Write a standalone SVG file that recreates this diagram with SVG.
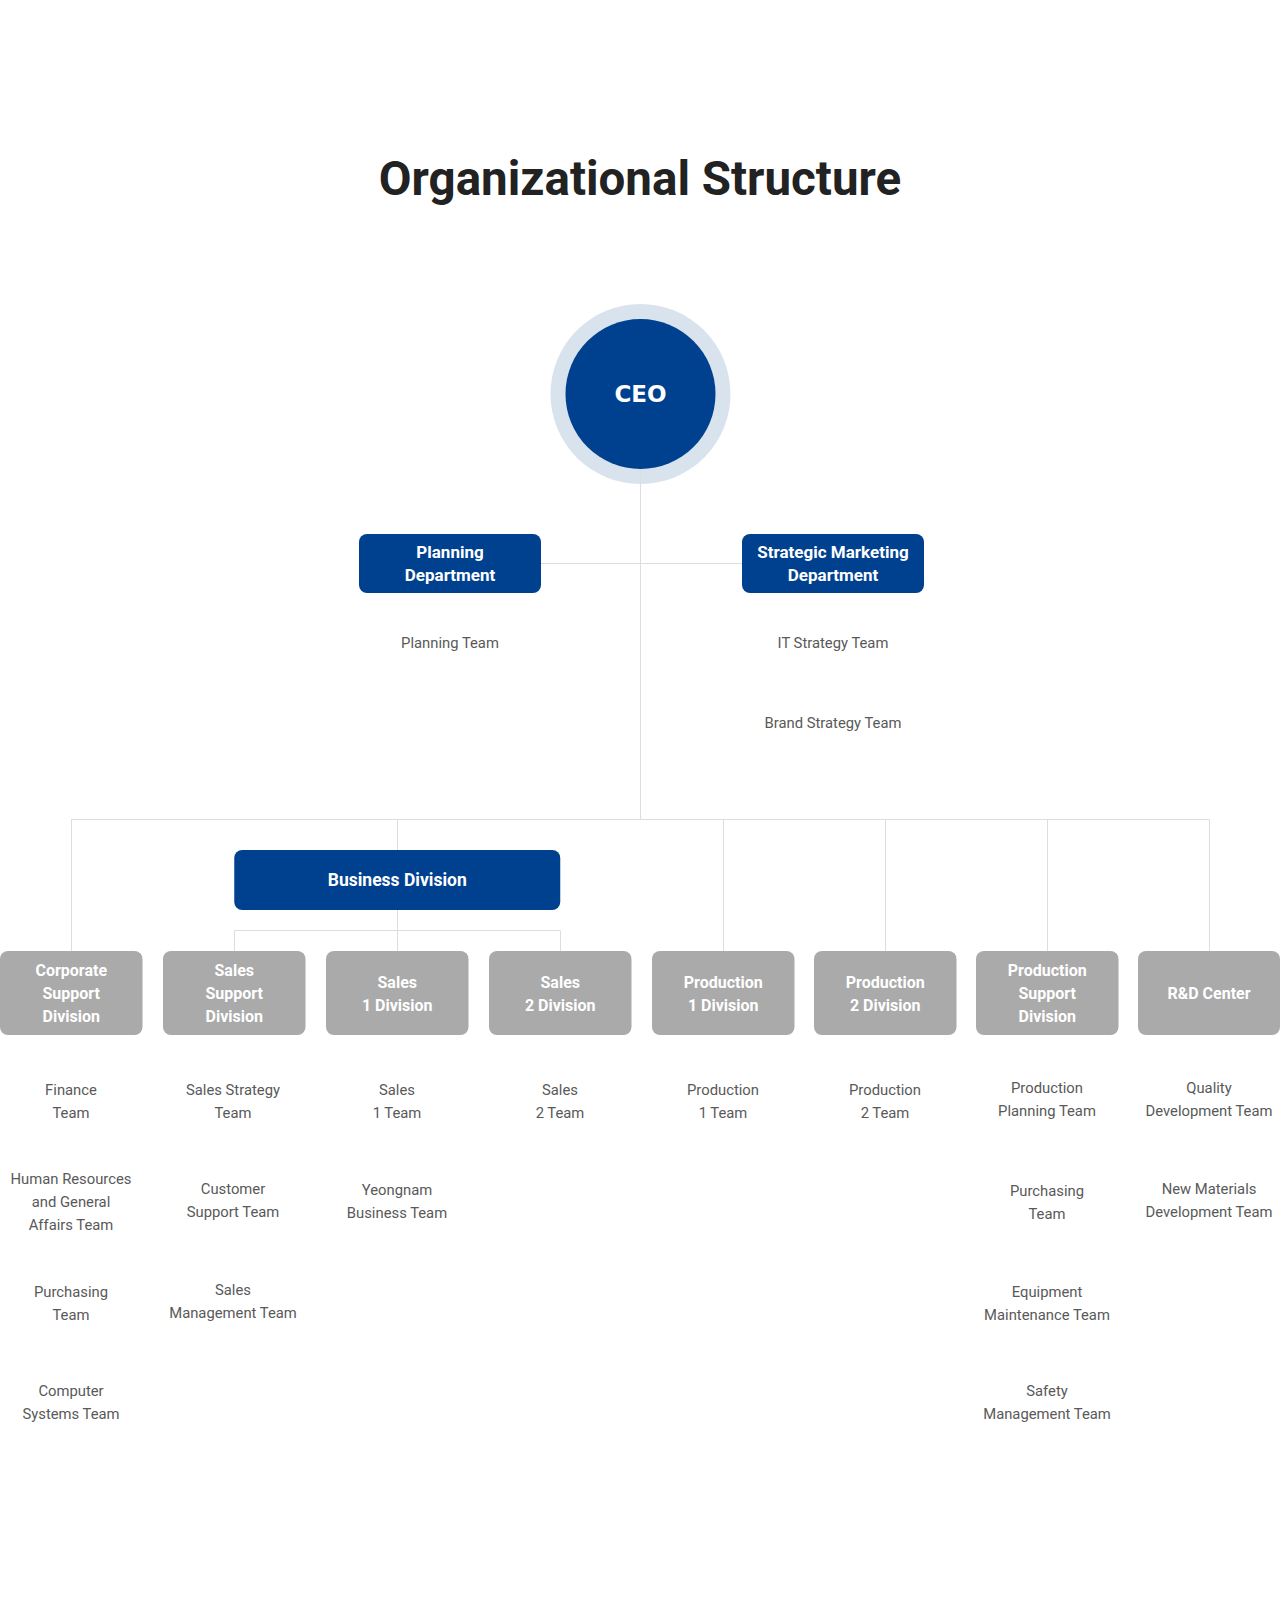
<svg xmlns="http://www.w3.org/2000/svg" width="1280" height="1610" viewBox="0 0 1280 1610">
<style>
.title{font-family:Roboto,"Noto Sans",sans-serif;font-weight:700;font-size:47.5px;fill:#222;text-anchor:middle}
.ceo{font-family:"DejaVu Sans","Noto Sans",sans-serif;font-weight:700;font-size:23px;fill:#fff;text-anchor:middle;dominant-baseline:central}
.dept{fill:#00418f}
.deptt{font-family:Roboto,"Noto Sans",sans-serif;font-weight:700;font-size:17px;fill:#fff;text-anchor:middle;dominant-baseline:central}
.bdt{font-family:Roboto,"Noto Sans",sans-serif;font-weight:700;font-size:17.5px;fill:#fff;text-anchor:middle;dominant-baseline:central}
.div{fill:#aaaaaa}
.divt{font-family:Roboto,"Noto Sans",sans-serif;font-weight:700;font-size:16px;fill:#fff;text-anchor:middle;dominant-baseline:central}
.team{font-family:Roboto,"Noto Sans",sans-serif;font-weight:400;font-size:14.8px;fill:#595959;text-anchor:middle;dominant-baseline:central}
.ln{stroke:#dddddd;stroke-width:1;fill:none}
</style>
<rect width="1280" height="1610" fill="#fff"/>
<text class="title" x="640" y="195">Organizational Structure</text>

<g id="connectors">
<path class="ln" d="M640.5 469V819.5M541 563.5H742M71.5 819.5H1209.5M71.5 819.5V951M397.5 819.5V850M397.5 910V951M234.5 930.5H560.5M234.5 930.5V951M560.5 930.5V951M723.5 819.5V951M885.5 819.5V951M1047.5 819.5V951M1209.5 819.5V951"/>
</g>

<g id="ceo">
<circle cx="640.5" cy="394" r="90" fill="#d9e3ee"/>
<circle cx="640.5" cy="394" r="75" fill="#00418f"/>
<path class="ln" d="M640.5 469V484"/>
<text class="ceo" x="640.5" y="394">CEO</text>
</g>

<g id="planning-dept">
<rect class="dept" x="359" y="534" width="182" height="59" rx="8"/>
<text class="deptt" x="450" y="552">Planning</text>
<text class="deptt" x="450" y="575">Department</text>
</g>
<g id="strategic-marketing-dept">
<rect class="dept" x="742" y="534" width="182" height="59" rx="8"/>
<text class="deptt" x="833" y="552">Strategic Marketing</text>
<text class="deptt" x="833" y="575">Department</text>
</g>
<g id="planning-teams">
<text class="team" x="450" y="643">Planning Team</text>
</g>
<g id="marketing-teams">
<text class="team" x="833" y="643">IT Strategy Team</text>
<text class="team" x="833" y="723">Brand Strategy Team</text>
</g>

<g id="business-division">
<rect class="dept" x="234.25" y="850" width="326" height="60" rx="8"/>
<text class="bdt" x="397.25" y="880">Business Division</text>
</g>

<g id="corporate-support">
<rect class="div" x="0" y="951" width="142.5" height="84" rx="8"/>
<text class="divt" x="71.25" y="970">Corporate</text>
<text class="divt" x="71.25" y="993">Support</text>
<text class="divt" x="71.25" y="1016">Division</text>
</g>
<g id="sales-support">
<rect class="div" x="163" y="951" width="142.5" height="84" rx="8"/>
<text class="divt" x="234.25" y="970">Sales</text>
<text class="divt" x="234.25" y="993">Support</text>
<text class="divt" x="234.25" y="1016">Division</text>
</g>
<g id="sales-1">
<rect class="div" x="326" y="951" width="142.5" height="84" rx="8"/>
<text class="divt" x="397.25" y="982">Sales</text>
<text class="divt" x="397.25" y="1005">1 Division</text>
</g>
<g id="sales-2">
<rect class="div" x="489" y="951" width="142.5" height="84" rx="8"/>
<text class="divt" x="560.25" y="982">Sales</text>
<text class="divt" x="560.25" y="1005">2 Division</text>
</g>
<g id="production-1">
<rect class="div" x="652" y="951" width="142.5" height="84" rx="8"/>
<text class="divt" x="723.25" y="982">Production</text>
<text class="divt" x="723.25" y="1005">1 Division</text>
</g>
<g id="production-2">
<rect class="div" x="814" y="951" width="142.5" height="84" rx="8"/>
<text class="divt" x="885.25" y="982">Production</text>
<text class="divt" x="885.25" y="1005">2 Division</text>
</g>
<g id="production-support">
<rect class="div" x="976" y="951" width="142.5" height="84" rx="8"/>
<text class="divt" x="1047.25" y="970">Production</text>
<text class="divt" x="1047.25" y="993">Support</text>
<text class="divt" x="1047.25" y="1016">Division</text>
</g>
<g id="rd-center">
<rect class="div" x="1138" y="951" width="142" height="84" rx="8"/>
<text class="divt" x="1209" y="993">R&amp;D Center</text>
</g>

<g id="teams-col0">
<text class="team" x="71" y="1090">Finance</text>
<text class="team" x="71" y="1113">Team</text>
<text class="team" x="71" y="1179">Human Resources</text>
<text class="team" x="71" y="1202">and General</text>
<text class="team" x="71" y="1225">Affairs Team</text>
<text class="team" x="71" y="1292">Purchasing</text>
<text class="team" x="71" y="1315">Team</text>
<text class="team" x="71" y="1391">Computer</text>
<text class="team" x="71" y="1414">Systems Team</text>
</g>
<g id="teams-col1">
<text class="team" x="233" y="1090">Sales Strategy</text>
<text class="team" x="233" y="1113">Team</text>
<text class="team" x="233" y="1189">Customer</text>
<text class="team" x="233" y="1212">Support Team</text>
<text class="team" x="233" y="1290">Sales</text>
<text class="team" x="233" y="1313">Management Team</text>
</g>
<g id="teams-col2">
<text class="team" x="397" y="1090">Sales</text>
<text class="team" x="397" y="1113">1 Team</text>
<text class="team" x="397" y="1190">Yeongnam</text>
<text class="team" x="397" y="1213">Business Team</text>
</g>
<g id="teams-col3">
<text class="team" x="560" y="1090">Sales</text>
<text class="team" x="560" y="1113">2 Team</text>
</g>
<g id="teams-col4">
<text class="team" x="723" y="1090">Production</text>
<text class="team" x="723" y="1113">1 Team</text>
</g>
<g id="teams-col5">
<text class="team" x="885" y="1090">Production</text>
<text class="team" x="885" y="1113">2 Team</text>
</g>
<g id="teams-col6">
<text class="team" x="1047" y="1088">Production</text>
<text class="team" x="1047" y="1111">Planning Team</text>
<text class="team" x="1047" y="1191">Purchasing</text>
<text class="team" x="1047" y="1214">Team</text>
<text class="team" x="1047" y="1292">Equipment</text>
<text class="team" x="1047" y="1315">Maintenance Team</text>
<text class="team" x="1047" y="1391">Safety</text>
<text class="team" x="1047" y="1414">Management Team</text>
</g>
<g id="teams-col7">
<text class="team" x="1209" y="1088">Quality</text>
<text class="team" x="1209" y="1111">Development Team</text>
<text class="team" x="1209" y="1189">New Materials</text>
<text class="team" x="1209" y="1212">Development Team</text>
</g>
</svg>
